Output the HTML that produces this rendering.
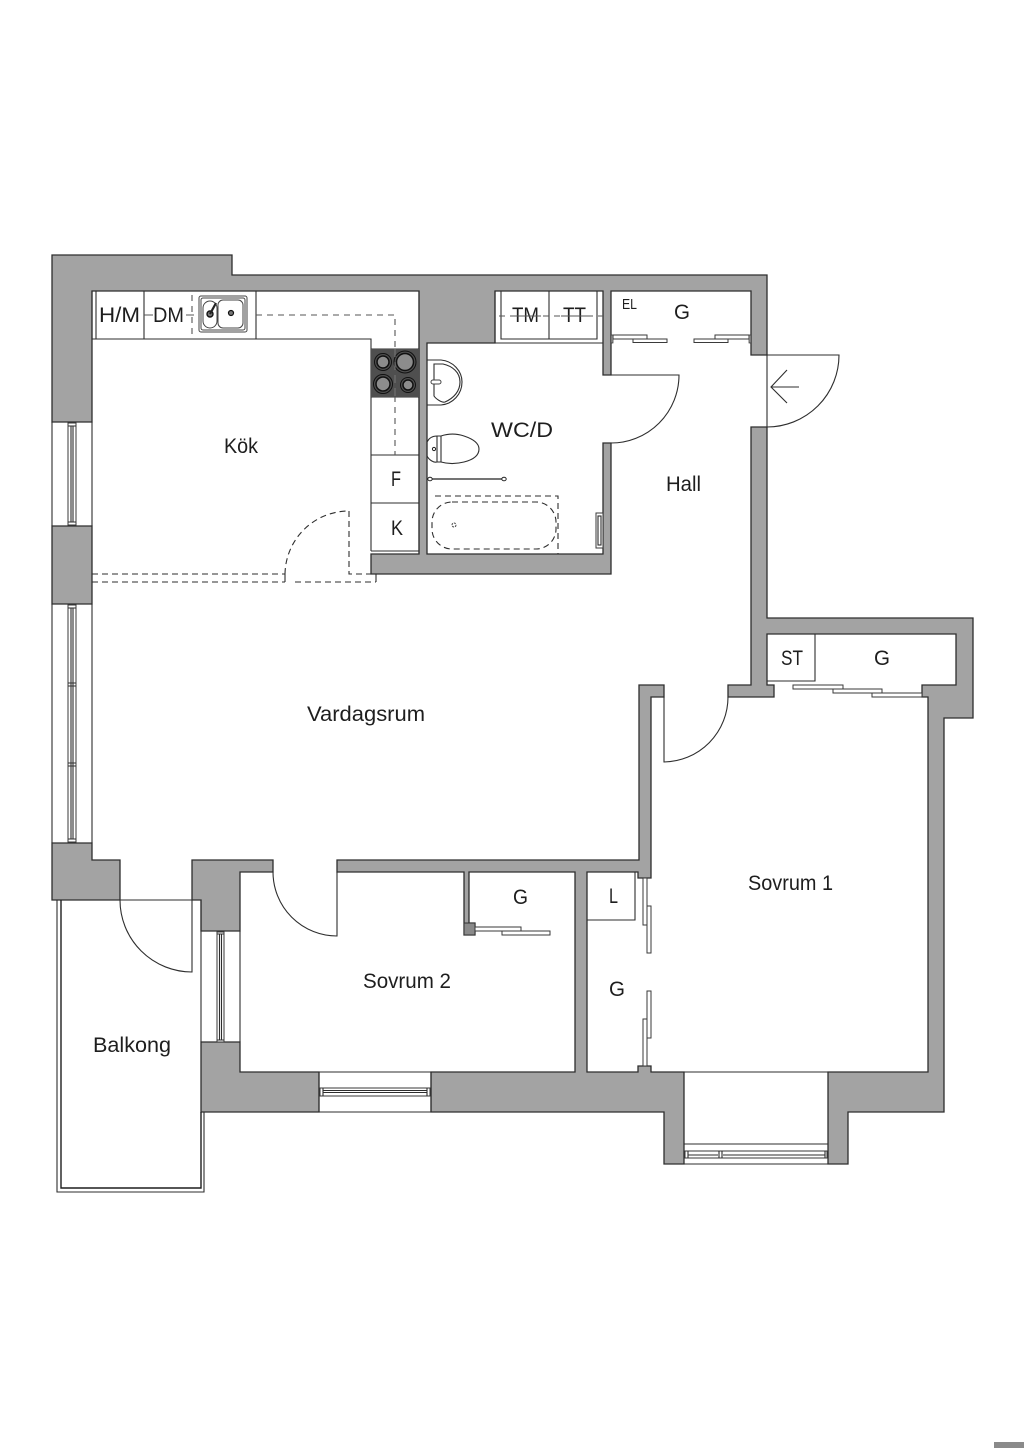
<!DOCTYPE html>
<html><head><meta charset="utf-8"><style>
html,body{margin:0;padding:0;background:#fff}
svg{display:block}
text{font-family:"Liberation Sans",sans-serif;font-size:21px;fill:#1e1e1e;stroke:none}
.w{fill:#a3a3a3;stroke:#2e2e2e;stroke-width:1.3}
.l{fill:none;stroke:#2e2e2e;stroke-width:1.1}
.r{fill:#fff;stroke:#3a3a3a;stroke-width:1}
.d{fill:none;stroke:#555;stroke-width:1.1;stroke-dasharray:6 5}
.d2{fill:none;stroke:#2e2e2e;stroke-width:1.1;stroke-dasharray:6 4}
</style></head><body>
<svg width="1024" height="1448" viewBox="0 0 1024 1448" xmlns="http://www.w3.org/2000/svg">
<rect width="1024" height="1448" fill="#fff"/>
<rect x="994" y="1442" width="30" height="6" fill="#8a8a8a"/>

<!-- walls -->
<polygon class="w" points="52,255 232,255 232,275 767,275 767,355 751,355 751,291 611,291 611,375 603,375 603,291 495,291 495,343 427,343 427,554 603,554 603,443 611,443 611,574 371,574 371,554 419,554 419,291 92,291 92,422 52,422"/>
<polygon class="w" points="52,526 92,526 92,604 52,604"/>
<polygon class="w" points="52,843 92,843 92,860 120,860 120,900 52,900"/>
<polygon class="w" points="192,860 273,860 273,872 240,872 240,931 201,931 201,900 192,900"/>
<polygon class="w" points="201,1042 240,1042 240,1072 319,1072 319,1112 201,1112"/>
<polygon class="w" points="337,860 639,860 639,685 664,685 664,697 651,697 651,878 638,878 638,872 587,872 587,1072 638,1072 638,1066 651,1066 651,1072 684,1072 684,1164 664,1164 664,1112 431,1112 431,1072 575,1072 575,872 469,872 469,923 475,923 475,935 464,935 464,872 337,872"/>
<polygon class="w" points="751,427 767,427 767,618 973,618 973,718 944,718 944,1112 848,1112 848,1164 828,1164 828,1072 928,1072 928,697 922,697 922,685 956,685 956,634 767,634 767,685 774,685 774,697 728,697 728,685 751,685"/>
<rect x="464" y="923" width="11" height="12" fill="#8a8a8a" stroke="#333"/>

<!-- left windows -->
<path class="l" d="M52,422V526M92,422V526M52,604V843M92,604V843"/>
<rect class="r" x="68" y="423" width="8" height="102"/>
<path class="l" d="M71,426V522M73,426V522M68,426H76M68,522H76"/>
<rect class="r" x="68" y="605" width="8" height="237"/>
<path class="l" d="M71,608V839M73,608V839M68,608H76M68,839H76M68,683H76M68,686H76M68,763H76M68,766H76"/>

<!-- kitchen counter -->
<path class="l" d="M92,291V339M96,291V339M144,291V339M256,291V339M92,339H371V551M419,291V554M371,349H419M371,397H419M371,455H419M371,503H419M371,551H419"/>
<line x1="144" y1="315" x2="153" y2="315" stroke="#555"/>
<line x1="186" y1="315" x2="194" y2="315" stroke="#555"/>
<path class="d" stroke-dasharray="9 6" d="M192,295V335M256,315H395V455"/>
<path class="d" stroke-dasharray="9 6" d="M210,315H247"/>
<!-- sink -->
<rect x="199" y="296" width="48" height="36" rx="2" fill="#fff" stroke="#444" stroke-width="1"/>
<rect x="201" y="298" width="44" height="32" rx="2" fill="none" stroke="#444"/>
<rect x="203" y="301" width="14" height="27" rx="7" fill="#fff" stroke="#444"/>
<rect x="218" y="300" width="25" height="28" rx="5" fill="#fff" stroke="#444"/>
<circle cx="210" cy="314" r="3" fill="#777" stroke="#111" stroke-width="1.4"/>
<circle cx="231" cy="313" r="2.5" fill="#777" stroke="#111" stroke-width="1.2"/>
<line x1="210" y1="314" x2="216" y2="303" stroke="#222" stroke-width="2.2"/>
<!-- hob -->
<rect x="371" y="349" width="48" height="48" fill="#4f4f4f"/>
<g stroke="#111" stroke-width="1.5" fill="#8c8c8c">
<circle cx="383" cy="362" r="6"/><circle cx="405" cy="362" r="8.500"/><circle cx="383" cy="384" r="7"/><circle cx="408" cy="385" r="5"/>
</g>
<circle cx="405" cy="362" r="11" fill="none" stroke="#111"/>
<circle cx="383" cy="384" r="9.500" fill="none" stroke="#111"/>
<circle cx="408" cy="385" r="7.500" fill="none" stroke="#111"/>
<circle cx="383" cy="362" r="8.500" fill="none" stroke="#111"/>
<line x1="395" y1="349" x2="395" y2="397" stroke="#777" stroke-dasharray="8 5"/>

<!-- kitchen dashed -->
<path class="d2" d="M92,574H285M92,582H285M295,582H376M349,511V574H371M285,574A64,64 0 0 1 349,511"/>
<path class="l" d="M285,574V582M376,574V582"/>

<!-- TM TT cabinet -->
<path class="l" d="M495,291V343H603M501,291V339H597V291M549,291V339M597,291H603"/>
<path class="d" stroke-dasharray="8 6" d="M499,316H603"/>
<!-- closet doors -->
<rect class="r" x="613" y="335" width="34" height="4"/><rect class="r" x="633" y="339" width="34" height="3.5"/>
<rect class="r" x="715" y="335" width="34" height="4"/><rect class="r" x="694" y="339" width="34" height="3.5"/>
<rect x="611" y="335" width="2" height="8" fill="#a3a3a3" stroke="#333" stroke-width=".7"/>
<rect x="749" y="335" width="2" height="8" fill="#a3a3a3" stroke="#333" stroke-width=".7"/>

<!-- entry door -->
<path class="l" d="M767,355H839A72,72 0 0 1 767,427V355"/>
<path class="l" d="M799,387H771M787,370L771,387L787,403"/>
<!-- wc door -->
<path class="l" d="M603,375H679A68,68 0 0 1 611,443H603"/>

<!-- WC fixtures -->
<path class="l" d="M427,360H441C453,361 462,371 462,382C462,394 453,404 441,405H427"/>
<path class="l" d="M434,364H443C452,366 460,372 460,382C460,391 454,398 445,402C442,403 436,399 434,396Z"/>
<rect x="431" y="380" width="10" height="4" rx="2" fill="#fff" stroke="#444"/>
<path class="l" d="M427,442C430,436 435,436 437,436V462C434,463 429,460 427,456Z"/>
<path class="l" d="M437,436H441V462H437M441,436C450,433 458,434 464,436C473,439 479,443 479,449C479,456 472,460 464,462C456,464 448,464 441,462"/>
<circle cx="434" cy="449" r="1.6" fill="none" stroke="#222"/>
<line x1="430" y1="479" x2="504" y2="479" stroke="#222" stroke-width="1.2"/>
<ellipse cx="430" cy="479" rx="2.2" ry="1.8" fill="#fff" stroke="#222"/>
<ellipse cx="504" cy="479" rx="2.2" ry="1.8" fill="#fff" stroke="#222"/>
<path class="d2" d="M435,496H558V554"/>
<rect class="d2" x="432" y="502" width="124" height="47" rx="20" ry="20" stroke-dasharray="5 4"/>
<circle cx="454" cy="525" r="2" fill="none" stroke="#444" stroke-dasharray="2 1"/>
<rect class="r" x="596" y="513" width="7" height="35"/>
<rect class="l" x="598" y="516" width="3" height="29"/>

<!-- ST closet -->
<path class="l" d="M767,681H815V634"/>
<rect class="r" x="793" y="685" width="50" height="4"/><rect class="r" x="833" y="689" width="49" height="4"/><rect class="r" x="872" y="693" width="50" height="4"/>
<!-- hall-sov1 door -->
<path class="l" d="M664,697V762A65,65 0 0 0 728,697"/>

<!-- Sov2 door -->
<path class="l" d="M337,872V936A64,64 0 0 1 273,872"/>
<!-- sov2 closet doors -->
<rect class="r" x="475" y="927" width="46" height="4"/><rect class="r" x="502" y="931" width="48" height="4"/>
<!-- L closet -->
<path class="l" d="M587,920H635V872"/>
<rect class="r" x="643" y="878" width="4" height="47"/><rect class="r" x="647" y="906" width="4" height="47"/>
<rect class="r" x="647" y="991" width="4" height="47"/><rect class="r" x="643" y="1019" width="4" height="47"/>

<!-- balcony -->
<path class="l" d="M57,900V1192H204V1112M120,900H201V931"/>
<path d="M61,900V1188H201V1112" fill="none" stroke="#1e1e1e" stroke-width="1.4"/>
<path class="l" d="M192,900V972A72,72 0 0 1 120,900"/>
<!-- balcony window -->
<path class="l" d="M201,931V1042M240,931V1042M201,931H240M201,1042H240"/>
<rect class="r" x="217" y="932" width="7" height="110"/>
<path class="l" d="M219.500,934V1040M221.500,934V1040M217,934H224M217,1040H224"/>
<!-- sov2 window -->
<path class="l" d="M319,1072H431V1112H319Z"/>
<rect class="r" x="320" y="1088" width="110" height="8"/>
<path class="l" d="M323,1090.500H427M323,1092.500H427M323,1088V1096M427,1088V1096"/>
<!-- bay window -->
<path class="l" d="M684,1072H828M684,1144H828M684,1164H828"/>
<rect class="r" x="685" y="1151" width="142" height="7"/>
<path class="l" d="M688,1155H718M723,1155H825M688,1151V1158M719,1151V1158M722,1151V1158M825,1151V1158"/>

<!-- labels -->
<text x="99" y="322" textLength="41" lengthAdjust="spacingAndGlyphs">H/M</text>
<text x="153" y="322" textLength="31" lengthAdjust="spacingAndGlyphs">DM</text>
<text x="224" y="453" textLength="34" lengthAdjust="spacingAndGlyphs">Kök</text>
<text x="391" y="486" textLength="10" lengthAdjust="spacingAndGlyphs">F</text>
<text x="391" y="535" textLength="12" lengthAdjust="spacingAndGlyphs">K</text>
<text x="512" y="322" textLength="27" lengthAdjust="spacingAndGlyphs">TM</text>
<text x="563" y="322" textLength="23" lengthAdjust="spacingAndGlyphs">TT</text>
<path d="M510,316H541M561,316H588" stroke="#555" fill="none"/>
<text x="622" y="309" textLength="15" lengthAdjust="spacingAndGlyphs" style="font-size:15px">EL</text>
<text x="674" y="319" textLength="16" lengthAdjust="spacingAndGlyphs">G</text>
<text x="491" y="437" textLength="62" lengthAdjust="spacingAndGlyphs">WC/D</text>
<text x="666" y="491" textLength="35" lengthAdjust="spacingAndGlyphs">Hall</text>
<text x="781" y="665" textLength="22" lengthAdjust="spacingAndGlyphs">ST</text>
<text x="874" y="665" textLength="16" lengthAdjust="spacingAndGlyphs">G</text>
<text x="307" y="721" textLength="118" lengthAdjust="spacingAndGlyphs">Vardagsrum</text>
<text x="748" y="890" textLength="85" lengthAdjust="spacingAndGlyphs">Sovrum 1</text>
<text x="363" y="988" textLength="88" lengthAdjust="spacingAndGlyphs">Sovrum 2</text>
<text x="93" y="1052" textLength="78" lengthAdjust="spacingAndGlyphs">Balkong</text>
<text x="513" y="904" textLength="15" lengthAdjust="spacingAndGlyphs">G</text>
<text x="609" y="903" textLength="9" lengthAdjust="spacingAndGlyphs">L</text>
<text x="609" y="996" textLength="16" lengthAdjust="spacingAndGlyphs">G</text>
</svg>
</body></html>
